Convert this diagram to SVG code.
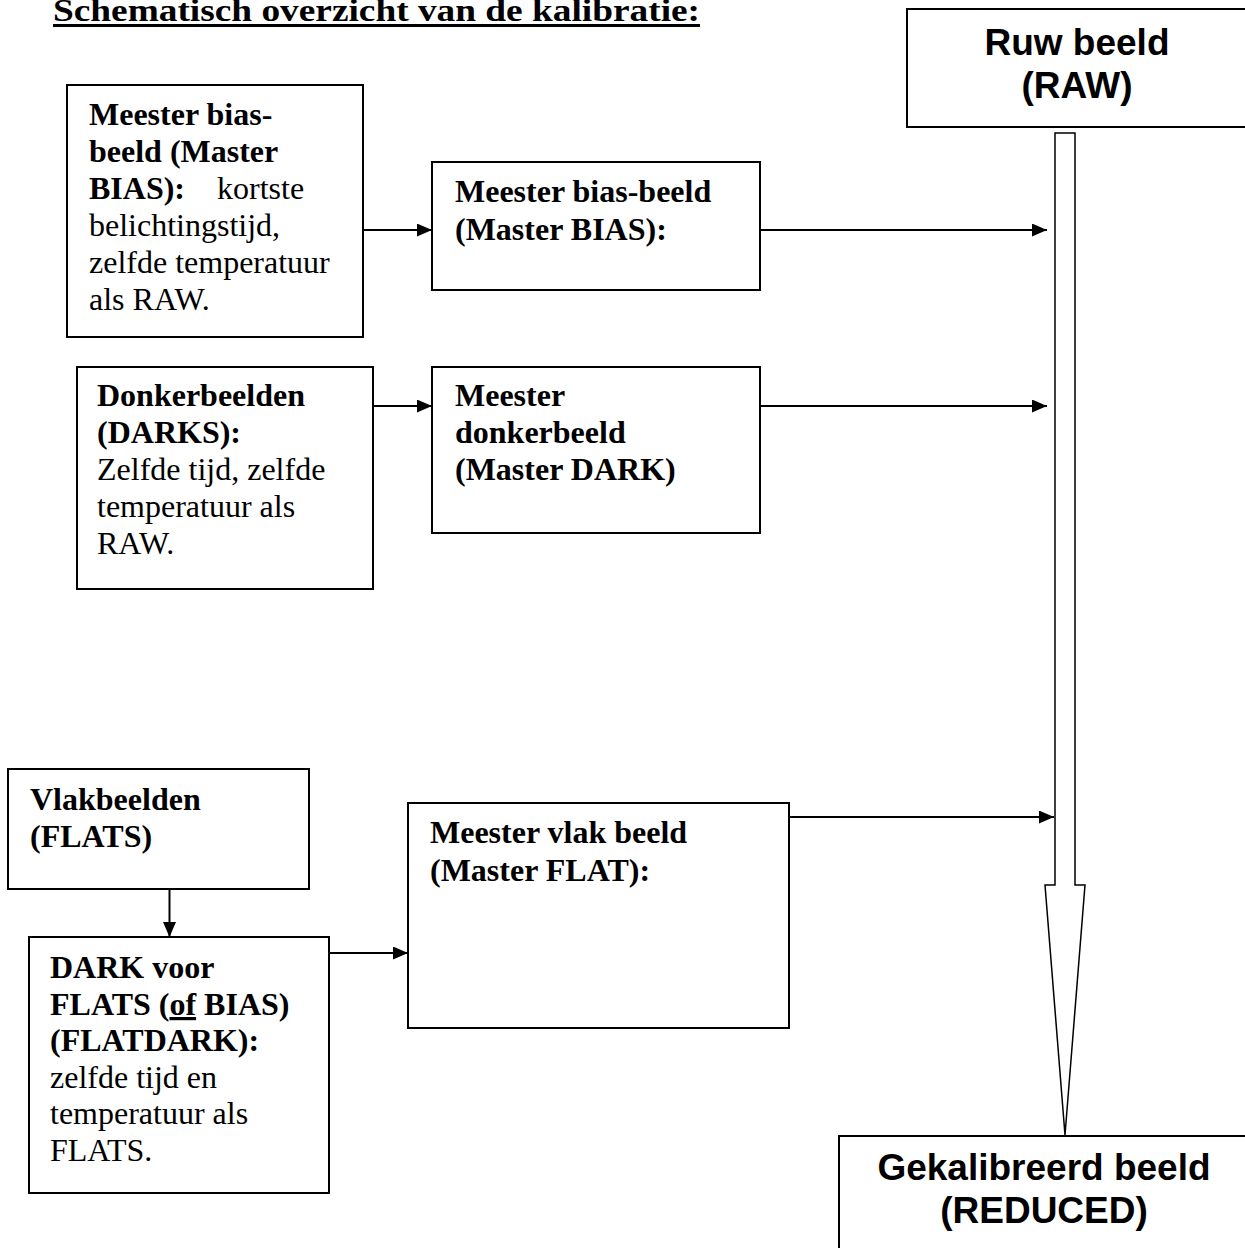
<svg xmlns="http://www.w3.org/2000/svg" width="1245" height="1248" viewBox="0 0 1245 1248">
<defs>
<style>
.box{fill:#fff;stroke:#000;stroke-width:2}
.t{font-family:"Liberation Serif","Times New Roman",serif;font-size:32px;fill:#000}
.b{font-weight:bold}
.a{font-family:"Liberation Sans",Arial,sans-serif;font-size:37px;font-weight:bold;fill:#000;text-anchor:middle}
.con{stroke:#000;stroke-width:2;fill:none}
</style>
<marker id="ah" markerUnits="userSpaceOnUse" markerWidth="16" markerHeight="14" refX="15" refY="6.5" orient="auto">
<path d="M0,0 L15,6.5 L0,13 Z" fill="#000"/>
</marker>
</defs>
<rect width="1245" height="1248" fill="#fff"/>
<g id="title">
<text class="t b" x="53" y="21" font-size="37" textLength="647" lengthAdjust="spacingAndGlyphs">Schematisch overzicht van de kalibratie:</text>
<rect x="53" y="24" width="647" height="3" fill="#000"/>
</g>
<g id="raw">
<rect class="box" x="907" y="9" width="345" height="118"/>
<text class="a" x="1077" y="55">Ruw beeld</text>
<text class="a" x="1077" y="98">(RAW)</text>
</g>
<g id="bias-frames">
<rect class="box" x="67" y="85" width="296" height="252"/>
<text class="t b" x="89" y="125">Meester bias-</text>
<text class="t b" x="89" y="162">beeld (Master</text>
<text class="t" x="89" y="199"><tspan class="b">BIAS):</tspan><tspan x="217">kortste</tspan></text>
<text class="t" x="89" y="236">belichtingstijd,</text>
<text class="t" x="89" y="273">zelfde temperatuur</text>
<text class="t" x="89" y="310">als RAW.</text>
</g>
<g id="master-bias">
<rect class="box" x="432" y="162" width="328" height="128"/>
<text class="t b" x="455" y="202">Meester bias-beeld</text>
<text class="t b" x="455" y="240">(Master BIAS):</text>
</g>
<g id="darks">
<rect class="box" x="77" y="367" width="296" height="222"/>
<text class="t b" x="97" y="406">Donkerbeelden</text>
<text class="t b" x="97" y="443">(DARKS):</text>
<text class="t" x="97" y="480">Zelfde tijd, zelfde</text>
<text class="t" x="97" y="517">temperatuur als</text>
<text class="t" x="97" y="554">RAW.</text>
</g>
<g id="master-dark">
<rect class="box" x="432" y="367" width="328" height="166"/>
<text class="t b" x="455" y="406">Meester</text>
<text class="t b" x="455" y="443">donkerbeeld</text>
<text class="t b" x="455" y="480">(Master DARK)</text>
</g>
<g id="flats">
<rect class="box" x="8" y="769" width="301" height="120"/>
<text class="t b" x="30" y="810">Vlakbeelden</text>
<text class="t b" x="30" y="847">(FLATS)</text>
</g>
<g id="flatdark">
<rect class="box" x="29" y="937" width="300" height="256"/>
<text class="t b" x="50" y="978">DARK voor</text>
<text class="t b" x="50" y="1015">FLATS (<tspan text-decoration="underline">of</tspan> BIAS)</text>
<text class="t b" x="50" y="1051">(FLATDARK):</text>
<text class="t" x="50" y="1088">zelfde tijd en</text>
<text class="t" x="50" y="1124">temperatuur als</text>
<text class="t" x="50" y="1161">FLATS.</text>
</g>
<g id="master-flat">
<rect class="box" x="408" y="803" width="381" height="225"/>
<text class="t b" x="430" y="843">Meester vlak beeld</text>
<text class="t b" x="430" y="881">(Master FLAT):</text>
</g>
<g id="reduced">
<rect class="box" x="839" y="1136" width="420" height="130"/>
<text class="a" x="1044" y="1180">Gekalibreerd beeld</text>
<text class="a" x="1044" y="1223">(REDUCED)</text>
</g>
<g id="connectors">
<polygon points="1055,133 1075,133 1075,885 1085,885 1065,1135 1045,885 1055,885" fill="#fff" stroke="#000" stroke-width="1.5"/>
<line class="con" x1="363" y1="230" x2="432" y2="230" marker-end="url(#ah)"/>
<line class="con" x1="760" y1="230" x2="1047" y2="230" marker-end="url(#ah)"/>
<line class="con" x1="373" y1="406" x2="432" y2="406" marker-end="url(#ah)"/>
<line class="con" x1="760" y1="406" x2="1047" y2="406" marker-end="url(#ah)"/>
<line class="con" x1="169.5" y1="889" x2="169.5" y2="937" marker-end="url(#ah)"/>
<line class="con" x1="329" y1="953" x2="408" y2="953" marker-end="url(#ah)"/>
<line class="con" x1="789" y1="817" x2="1054" y2="817" marker-end="url(#ah)"/>
</g>
</svg>
